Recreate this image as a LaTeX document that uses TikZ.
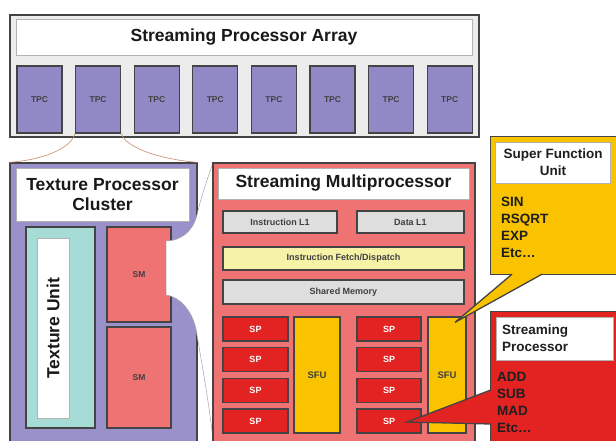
\documentclass[tikz,border=0pt]{standalone}
\usepackage{fontspec}
\setmainfont{Liberation Sans}
\usetikzlibrary{calc}

\definecolor{spagray}{HTML}{ECECEC}
\definecolor{tpcpurple}{HTML}{9189C6}
\definecolor{clusterpurple}{HTML}{9A90CA}
\definecolor{texteal}{HTML}{A6DCD5}
\definecolor{smsalmon}{HTML}{EF7373}
\definecolor{spred}{HTML}{E32222}
\definecolor{sfugold}{HTML}{F9C300}
\definecolor{cachegray}{HTML}{DEDEDE}
\definecolor{fetchyellow}{HTML}{F6F2A8}
\definecolor{edgegray}{HTML}{444444}
\definecolor{funnelbrown}{HTML}{C98A6A}

\begin{document}
\begin{tikzpicture}[x=1pt, y=-1pt,
    blk/.style={draw=edgegray, line width=1.3pt, rectangle, inner sep=0pt, font=\bfseries},
    ttl/.style={draw=black!30, fill=white, line width=0.8pt, rectangle, inner sep=0pt,
        font=\fontsize{17.5}{20}\selectfont\bfseries, text=black!90},
    tiny/.style={font=\fontsize{8.5}{10}\selectfont\bfseries, text=black!75},
    small/.style={font=\fontsize{9}{10}\selectfont\bfseries, text=black!75},
    call/.style={font=\fontsize{13.5}{17}\selectfont\bfseries, text=black!88},
    funnel/.style={draw=gray!70, line width=0.5pt}]
    \useasboundingbox (0,0) rectangle (616,440);
    \clip (0,0) rectangle (616,440);

    % Streaming processor array
    \node[blk, fill=spagray, minimum width=469, minimum height=122] (spa) at (244.5,76) {};
    \node[ttl, minimum width=456, minimum height=36] (spatitle) at (244,37) {Streaming Processor Array};
    \foreach \i in {1,...,8}
        \node[blk, tiny, fill=tpcpurple, minimum width=45, minimum height=67] (tpc\i) at ({39.5+(\i-1)*58.6},99.5) {TPC};

    % Texture processor cluster
    \node[blk, fill=clusterpurple, minimum width=187, minimum height=282] (tpcc) at (103.5,304) {};
    \draw[funnelbrown, line width=0.6pt] (tpc2.south west) .. controls (70,150) and (40,160) .. (tpcc.north west);
    \draw[funnelbrown, line width=0.6pt] (tpc2.south east) .. controls (127,150) and (167,160) .. (tpcc.north east);
    \node[ttl, minimum width=173, minimum height=53, align=center] (tpcctitle) at (102.5,194.5) {Texture Processor\\Cluster};
    \node[blk, fill=texteal, minimum width=69, minimum height=201] (texunit) at (60.5,327.5) {};
    \node[ttl, rotate=90, minimum width=180, minimum height=32] (texlabel) at (53,328) {Texture Unit};
    \node[blk, tiny, fill=smsalmon, minimum width=64, minimum height=95] (sm1) at (139,274.5) {SM};
    \node[blk, tiny, fill=smsalmon, minimum width=64, minimum height=101] (sm2) at (139,377.5) {SM};

    % Zoom from SM into the multiprocessor
    \draw[funnel, fill=white] (213,163) .. controls (205,185) and (199,205) .. (197,215)
        .. controls (193,232) and (180,241) .. (166,241) -- (166,295)
        .. controls (182,297) and (195,315) .. (197,335)
        .. controls (203,370) and (210,410) .. (213,440) -- (216,440) -- (216,163) -- cycle;

    % Streaming multiprocessor
    \node[blk, fill=smsalmon, minimum width=262, minimum height=282] (smp) at (344,304) {};
    \node[ttl, minimum width=251, minimum height=31] (smptitle) at (343.5,183.5) {Streaming Multiprocessor};
    \node[blk, small, fill=cachegray, minimum width=114, minimum height=22] (icache) at (280,222) {Instruction L1};
    \node[blk, small, fill=cachegray, minimum width=107, minimum height=22] (dcache) at (410.5,222) {Data L1};
    \node[blk, small, fill=fetchyellow, minimum width=241, minimum height=23] (fetch) at (343.5,258.5) {Instruction Fetch/Dispatch};
    \node[blk, small, fill=cachegray, minimum width=241, minimum height=24] (shmem) at (343.5,292) {Shared Memory};
    \foreach \r in {1,...,4} {
        \node[blk, small, text=white, fill=spred, minimum width=65, minimum height=24] (spL\r) at (255.5,{329+(\r-1)*30.67}) {SP};
        \node[blk, small, text=white, fill=spred, minimum width=64, minimum height=24] (spR\r) at (389,{329+(\r-1)*30.67}) {SP};
    }
    \node[blk, small, font=\fontsize{9.5}{10}\selectfont\bfseries, fill=sfugold, minimum width=46, minimum height=116] (sfuL) at (317,375) {SFU};
    \node[blk, small, font=\fontsize{9.5}{10}\selectfont\bfseries, fill=sfugold, minimum width=38, minimum height=116] (sfuR) at (447,375) {SFU};

    % Super function unit callout
    \node[fill=sfugold, minimum width=129, minimum height=137, inner sep=0pt] (sfucall) at (555.5,205.5) {};
    \filldraw[draw=edgegray, line width=1.3pt, fill=sfugold] ($(sfucall.south)+(-43.5,0)$) -- ($(sfuR.north)+(8,6)$) -- ($(sfucall.south)+(-13.5,0)$);
    \draw[draw=edgegray, line width=1.3pt] ($(sfucall.south)+(-43.5,0)$) -- (sfucall.south west) -- (sfucall.north west)
        -- (sfucall.north east) -- (sfucall.south east) -- ($(sfucall.south)+(-13.5,0)$);
    \node[ttl, call, minimum width=115, minimum height=41, align=center] (sfutitle) at (553,162.5) {Super Function\\Unit};
    \node[call, anchor=north west, align=left, inner sep=0pt] (sfuops) at (501,197) {SIN\\RSQRT\\EXP\\Etc\ldots};

    % Streaming processor callout
    \node[fill=spred, minimum width=129, minimum height=133, inner sep=0pt] (spcall) at (555.5,378.5) {};
    \filldraw[draw=edgegray, line width=1.3pt, fill=spred] ($(spcall.west)+(0,11.5)$) -- ($(spR4.center)+(18,1)$) -- ($(spcall.west)+(0,45.5)$);
    \draw[draw=edgegray, line width=1.3pt] ($(spcall.west)+(0,11.5)$) -- (spcall.north west) -- (spcall.north east)
        -- (spcall.south east) -- (spcall.south west) -- ($(spcall.west)+(0,45.5)$);
    \node[ttl, call, minimum width=117, minimum height=43, text width=105, align=left] (sptitle) at (554.5,338.5) {Streaming\\Processor};
    \node[call, anchor=north west, align=left, inner sep=0pt] (spops) at (497,372) {ADD\\SUB\\MAD\\Etc\ldots};
\end{tikzpicture}
\end{document}
